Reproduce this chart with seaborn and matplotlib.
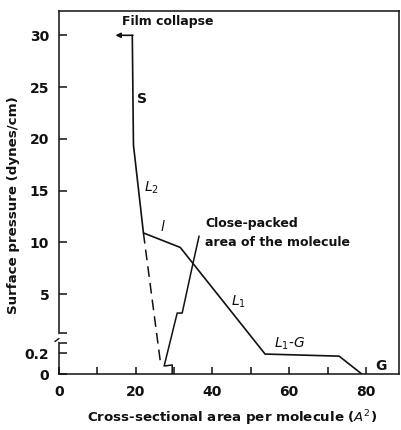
import numpy as np
import pandas as pd
import matplotlib
matplotlib.use("Agg")
import matplotlib.pyplot as plt
import seaborn as sns

# Surface pressure isotherm of a monolayer (area per molecule vs. pressure)
area = [19.1, 19.4, 22.0, 31.6, 53.7, 73.0, 78.9]
pressure = [30.0, 19.4, 10.9, 9.5, 0.19, 0.17, 0.0]

# Extrapolation of the condensed branch down to the close-packed area
extrap_area = [22.0, 26.4]
extrap_pressure = [10.9, 0.12]

# Pointer from the "close-packed" note to the extrapolated area
pointer_area = [29.5, 29.5, 27.4, 30.8, 32.1, 34.7, 36.5]
pointer_pressure = [0.0, 0.086, 0.076, 3.16, 3.16, 7.6, 10.6]

x_ticks = [0, 10, 20, 30, 40, 50, 60, 70, 80]
x_tick_labels = ["0", "", "20", "", "40", "", "60", "", "80"]
y_ticks = [0, 0.2, 5, 10, 15, 20, 25, 30]
y_tick_labels = ["0", "0.2", "5", "10", "15", "20", "25", "30"]

sns.set_theme(style="ticks")
plt.rcParams["font.family"] = ["DejaVu Sans"]
plt.rcParams["mathtext.fontset"] = "dejavusans"

# Broken pressure axis: 0-0.2 is stretched, then a compressed gap, then linear
_p_nodes = np.array([-10.0, 0.0, 0.2, 1.0, 5.0, 100.0])
_h_nodes = np.array([-1050.0, 0.0, 21.0, 38.6, 80.0, 80.0 + 95 * 10.35])


def fwd(p):
    return np.interp(p, _p_nodes, _h_nodes)


def inv(h):
    return np.interp(h, _h_nodes, _p_nodes)


fig = plt.figure(figsize=(4.01, 4.30), dpi=100)
ax = fig.add_axes([59 / 401, 1 - 374 / 430, 340 / 401, 362.5 / 430])
ax.set_yscale("function", functions=(fwd, inv))
ax.set_xlim(0, 88.6)
ax.set_ylim(0, 32.3)

ink = "#111111"
df = pd.DataFrame({"area": area, "pressure": pressure})
sns.lineplot(data=df, x="area", y="pressure", sort=False, estimator=None,
             color=ink, lw=1.2, ax=ax)
df_ex = pd.DataFrame({"area": extrap_area, "pressure": extrap_pressure})
sns.lineplot(data=df_ex, x="area", y="pressure", sort=False, estimator=None,
             color=ink, lw=1.1, ax=ax, linestyle=(0, (7, 4)))
ax.plot(pointer_area, pointer_pressure, color=ink, lw=1.1)

# Film collapse arrow
ax.annotate("", xy=(14.7, 30), xytext=(19.25, 30),
            arrowprops=dict(arrowstyle="-|>", color=ink, lw=1.2,
                            mutation_scale=7, shrinkA=0, shrinkB=0))

fw = "bold"
ax.text(16.5, 31.3, "Film collapse", fontsize=9, fontweight=fw,
        ha="left", va="center", color=ink)
ax.text(21.7, 23.8, "S", fontsize=10, fontweight=fw, ha="center",
        va="center", color=ink)
ax.text(24.0, 15.3, r"$L_2$", fontsize=10, ha="center", va="center",
        color=ink)
ax.text(27.2, 11.5, r"$l$", fontsize=10, ha="center", va="center",
        color=ink)
ax.text(38.1, 11.86, "Close-packed", fontsize=9, fontweight=fw,
        ha="left", va="center", color=ink)
ax.text(38.1, 9.93, "area of the molecule", fontsize=9, fontweight=fw,
        ha="left", va="center", color=ink)
ax.text(46.9, 4.23, r"$L_1$", fontsize=10, ha="center", va="center",
        color=ink)
ax.text(60.2, 0.61, r"$L_1$-$G$", fontsize=10, ha="center", va="center",
        color=ink)
ax.text(83.9, 0.076, "G", fontsize=10, fontweight=fw, ha="center",
        va="center", color=ink)

# Axes styling
for s in ax.spines.values():
    s.set_linewidth(1.1)
    s.set_color(ink)

ax.set_xticks(x_ticks)
ax.set_xticklabels(x_tick_labels)
ax.set_yticks(y_ticks + [0.65, 1.25])
ax.set_yticklabels(y_tick_labels + ["", ""])
ax.tick_params(axis="both", direction="in", length=5, width=1.1,
               colors=ink, labelsize=10)
ax.tick_params(axis="x", pad=8)
ax.tick_params(axis="y", pad=7, length=6)
for lab in ax.get_xticklabels() + ax.get_yticklabels():
    lab.set_fontweight(fw)

# Break in the pressure axis
ytr = ax.get_yaxis_transform()
ax.plot([0, 0], [0.78, 1.05], transform=ytr, color="white", lw=2.5,
        clip_on=False, zorder=5)
ax.plot([-0.012, 0.0], [0.72, 0.86], transform=ytr, color=ink, lw=1.0,
        clip_on=False, zorder=6)

ax.set_xlabel(r"Cross-sectional area per molecule ($A^2$)", fontsize=9.6,
              fontweight=fw, color=ink)
ax.set_ylabel("Surface pressure (dynes/cm)", fontsize=9.6, fontweight=fw,
              color=ink)
ax.xaxis.set_label_coords(0.51, -0.096)
ax.yaxis.set_label_coords(-0.115, 0.466)

fig.savefig("out.png", dpi=100)
